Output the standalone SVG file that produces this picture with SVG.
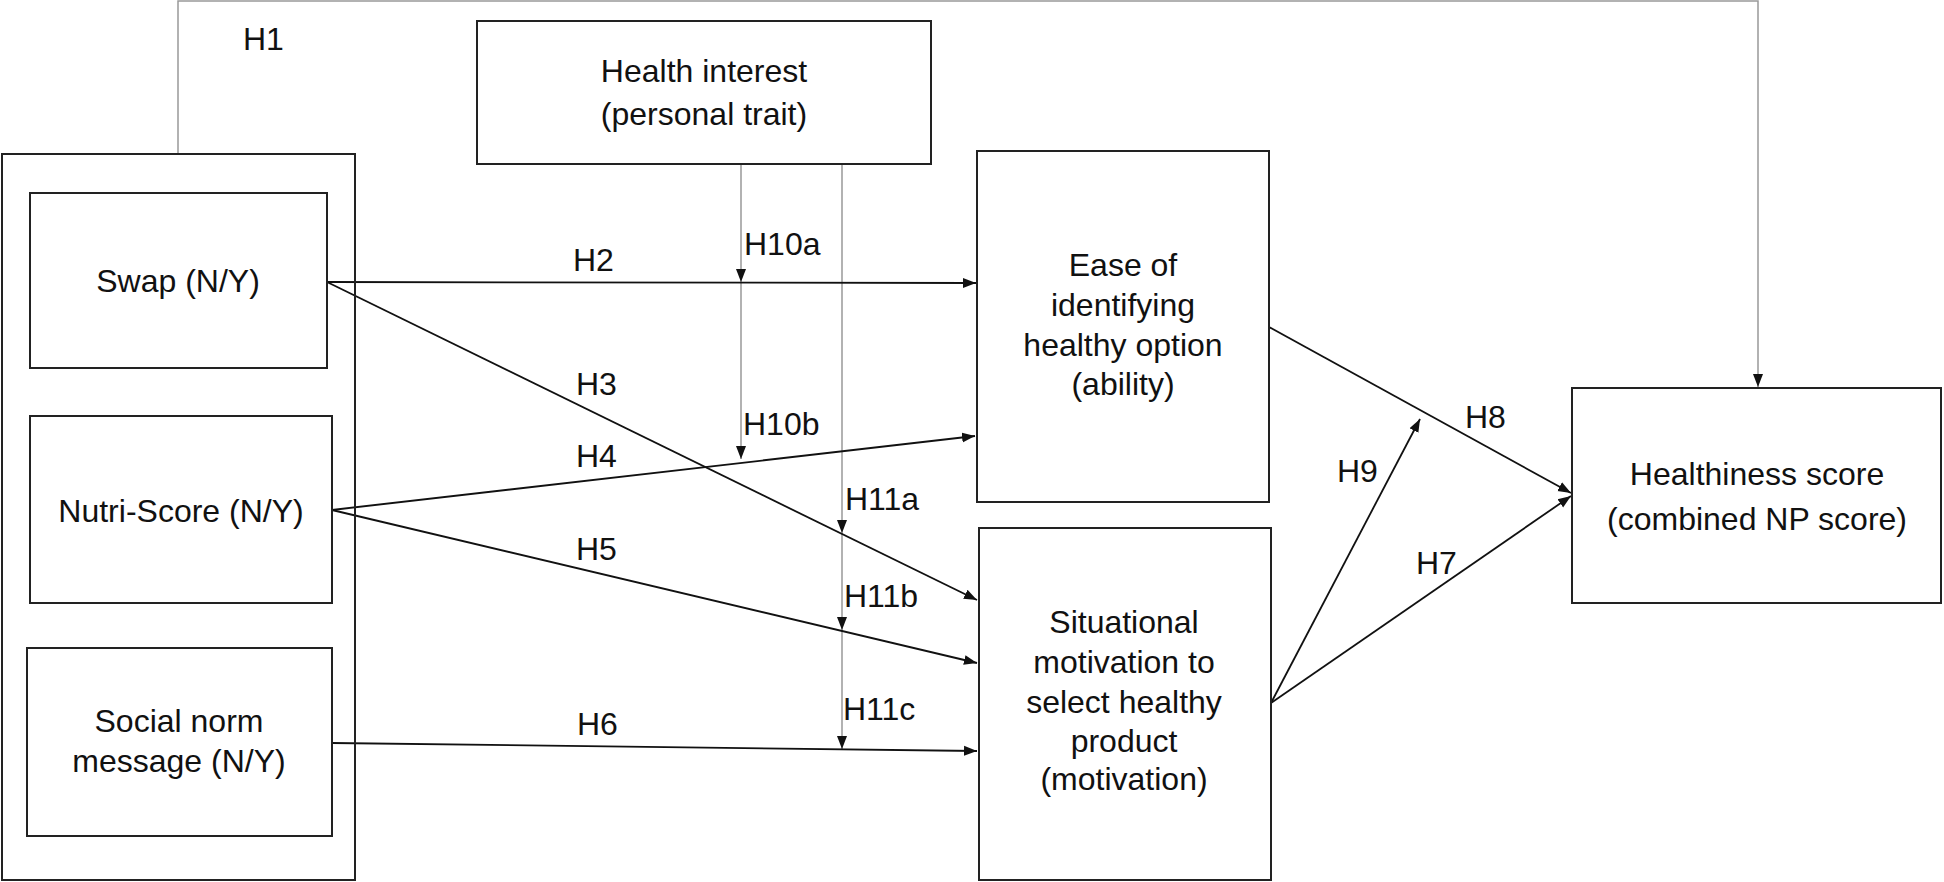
<svg xmlns="http://www.w3.org/2000/svg" width="1944" height="882" viewBox="0 0 1944 882">
<defs>
<style>
.box{fill:#fff;stroke:#222;stroke-width:2}
.t{font-family:"Liberation Sans",Arial,sans-serif;font-size:32px;fill:#111;text-anchor:middle}
.l{font-family:"Liberation Sans",Arial,sans-serif;font-size:32px;fill:#111}
.c{fill:none;stroke:#111;stroke-width:1.8}
.g{fill:none;stroke:#999;stroke-width:1.5}
</style>
<marker id="ah" markerUnits="userSpaceOnUse" markerWidth="14" markerHeight="12" viewBox="0 0 14 12" refX="13" refY="6" orient="auto">
<path d="M0,1 L13,6 L0,11 Z" fill="#111"/>
</marker>
</defs>
<rect width="1944" height="882" fill="#fff"/>
<g id="connectors">
<polyline class="g" points="178,154 178,1 1758,1 1758,387" marker-end="url(#ah)"/>
<line class="g" x1="741" y1="164" x2="741" y2="282" marker-end="url(#ah)"/>
<line class="g" x1="741" y1="282" x2="741" y2="459" marker-end="url(#ah)"/>
<line class="g" x1="842" y1="164" x2="842" y2="533" marker-end="url(#ah)"/>
<line class="g" x1="842" y1="533" x2="842" y2="630" marker-end="url(#ah)"/>
<line class="g" x1="842" y1="630" x2="842" y2="749" marker-end="url(#ah)"/>
<line class="c" x1="327" y1="282" x2="976" y2="283" marker-end="url(#ah)"/>
<line class="c" x1="327" y1="282" x2="977" y2="600" marker-end="url(#ah)"/>
<line class="c" x1="332" y1="510" x2="975" y2="436" marker-end="url(#ah)"/>
<line class="c" x1="332" y1="510" x2="977" y2="663" marker-end="url(#ah)"/>
<line class="c" x1="332" y1="743" x2="977" y2="751" marker-end="url(#ah)"/>
<line class="c" x1="1269" y1="327" x2="1571" y2="493" marker-end="url(#ah)"/>
<line class="c" x1="1271" y1="703" x2="1420" y2="419" marker-end="url(#ah)"/>
<line class="c" x1="1271" y1="703" x2="1571" y2="496" marker-end="url(#ah)"/>
<text class="l" x="243" y="50">H1</text>
<text class="l" x="573" y="271">H2</text>
<text class="l" x="576" y="395">H3</text>
<text class="l" x="576" y="467">H4</text>
<text class="l" x="576" y="560">H5</text>
<text class="l" x="577" y="735">H6</text>
<text class="l" x="1416" y="574">H7</text>
<text class="l" x="1465" y="428">H8</text>
<text class="l" x="1337" y="482">H9</text>
<text class="l" x="744" y="255">H10a</text>
<text class="l" x="743" y="435">H10b</text>
<text class="l" x="845" y="510">H11a</text>
<text class="l" x="844" y="607">H11b</text>
<text class="l" x="843" y="720">H11c</text>
</g>
<g id="treatments">
<rect x="2" y="154" width="353" height="726" fill="none" stroke="#222" stroke-width="2"/>
</g>
<g id="swap">
<rect class="box" x="30" y="193" width="297" height="175"/>
<text class="t" x="178" y="292">Swap (N/Y)</text>
</g>
<g id="nutri">
<rect class="box" x="30" y="416" width="302" height="187"/>
<text class="t" x="181" y="522">Nutri-Score (N/Y)</text>
</g>
<g id="social">
<rect class="box" x="27" y="648" width="305" height="188"/>
<text class="t" x="179" y="732">Social norm</text>
<text class="t" x="179" y="772">message (N/Y)</text>
</g>
<g id="health-interest">
<rect class="box" x="477" y="21" width="454" height="143"/>
<text class="t" x="704" y="82">Health interest</text>
<text class="t" x="704" y="125">(personal trait)</text>
</g>
<g id="ease">
<rect class="box" x="977" y="151" width="292" height="351"/>
<text class="t" x="1123" y="276">Ease of</text>
<text class="t" x="1123" y="316">identifying</text>
<text class="t" x="1123" y="356">healthy option</text>
<text class="t" x="1123" y="395">(ability)</text>
</g>
<g id="motivation">
<rect class="box" x="979" y="528" width="292" height="352"/>
<text class="t" x="1124" y="633">Situational</text>
<text class="t" x="1124" y="673">motivation to</text>
<text class="t" x="1124" y="713">select healthy</text>
<text class="t" x="1124" y="752">product</text>
<text class="t" x="1124" y="790">(motivation)</text>
</g>
<g id="healthiness">
<rect class="box" x="1572" y="388" width="369" height="215"/>
<text class="t" x="1757" y="485">Healthiness score</text>
<text class="t" x="1757" y="530">(combined NP score)</text>
</g>
</svg>
